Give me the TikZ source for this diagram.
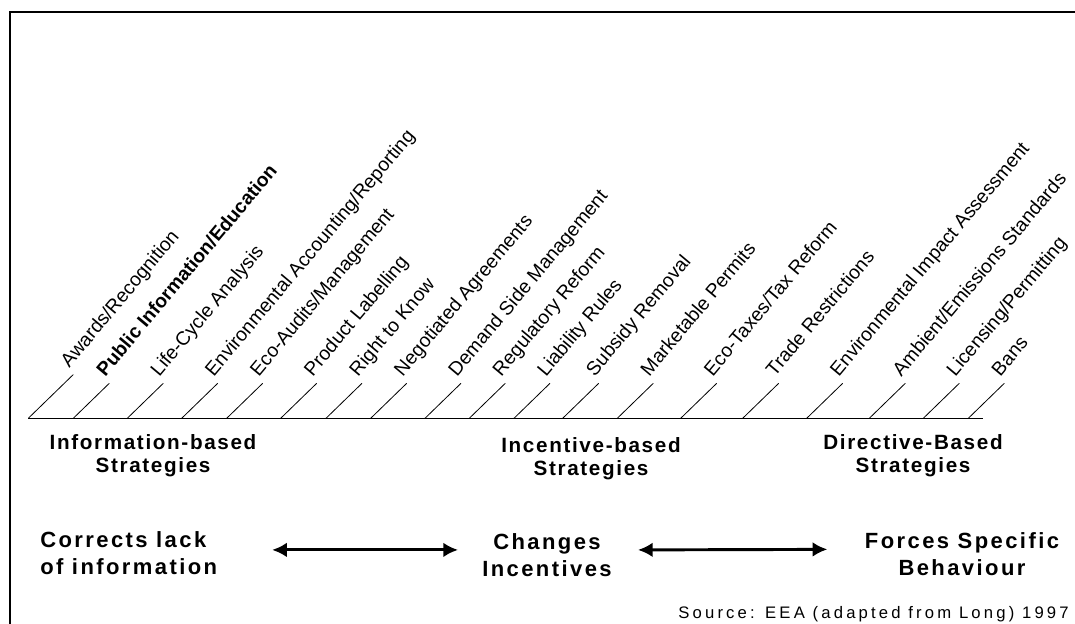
\documentclass[tikz,border=0pt]{standalone}
\usepackage{fontspec}
\setmainfont{Liberation Sans}
\newfontfamily\spacedfont[LetterSpace=8]{Liberation Sans}
\newfontfamily\effectfont[LetterSpace=11]{Liberation Sans}
\newfontfamily\sourcefont[LetterSpace=19]{Liberation Sans}
\usetikzlibrary{arrows.meta}
\tikzset{
  tickline/.style={line width=0.6pt},
  toplabel/.style={rotate=50,anchor=base west,inner sep=0pt,font=\fontsize{14.5}{16}\selectfont},
  stratlabel/.style={anchor=north,align=center,inner sep=0pt,font=\spacedfont\bfseries\fontsize{15.5}{17.3}\selectfont},
  effectlabel/.style={inner sep=0pt,font=\effectfont\bfseries\fontsize{16.5}{20.3}\selectfont},
  twoway/.style={line width=2.2pt,{Latex[length=11pt,width=11pt]}-{Latex[length=11pt,width=11pt]}}
}
\begin{document}
\begin{tikzpicture}[x=0.75pt,y=-0.75pt]
  \useasboundingbox (0,0) rectangle (1075,624);
  % frame
  \draw[line width=1.6pt] (10,640) -- (10,12) -- (1090,12);
  % axis
  \coordinate (axl) at (28.3,418.3);
  \coordinate (axr) at (982.7,418.3);
  \draw[line width=0.8pt] (axl) -- (axr);
  % instruments
  \foreach \x/\f/\lbl [count=\i] in {
      28.3/1.25/{Awards/Recognition},
      73.3/1/{\textbf{Public Information/Education}},
      127.3/1/{Life-Cycle Analysis},
      181.7/1/{Environmental Accounting/Reporting},
      226.7/1/{Eco-Audits/Management},
      280.7/1/{Product Labelling},
      326/1/{Right to Know},
      370.7/1/{Negotiated Agreements},
      425/1/{Demand Side Management},
      469.3/1/{Regulatory Reform},
      514/1/{Liability Rules},
      562.7/1/{Subsidy Removal},
      617.3/1/{Marketable Permits},
      680.7/1/{Eco-Taxes/Tax Reform},
      742.7/1/{Trade Restrictions},
      806.7/1/{Environmental Impact Assessment},
      869.3/1/{Ambient/Emissions Standards},
      923.3/1/{Licensing/Permitting},
      968.3/1/{Bans}}{
    \coordinate (b\i) at (\x,418.3);
    \coordinate (t\i) at ([shift={(36*\f,-35*\f)}]b\i);
    \draw[tickline] (b\i) -- (t\i);
    \node[toplabel] (l\i) at ([shift={(-4,-6)}]t\i) {\lbl};
  }
  % strategy groups
  \node[stratlabel] (info) at (153,434.5) {Information-based\\Strategies};
  \node[stratlabel] (incent) at (591,437.5) {Incentive-based\\Strategies};
  \node[stratlabel] (direct) at (913,434.5) {Directive-Based\\Strategies};
  % effects
  \node[effectlabel,anchor=north west,align=left] (corr) at (40,531.5) {Corrects lack\\of information};
  \node[effectlabel,anchor=north,align=center] (chg) at (547,533.5) {Changes\\Incentives};
  \node[effectlabel,anchor=north,align=center] (forces) at (962,532.5) {Forces Specific\\Behaviour};
  \draw[twoway] ([xshift=41pt,yshift=2.6pt]corr.east) -- ([xshift=-18pt,yshift=4.1pt]chg.west);
  \draw[twoway] ([xshift=19.5pt,yshift=4.1pt]chg.east) -- ([xshift=-28pt,yshift=3.75pt]forces.west);
  \node[anchor=base east,inner sep=0pt,font=\sourcefont\fontsize{12.5}{14}\selectfont] (src) at (1069,618) {Source: EEA (adapted from Long) 1997};
\end{tikzpicture}
\end{document}
